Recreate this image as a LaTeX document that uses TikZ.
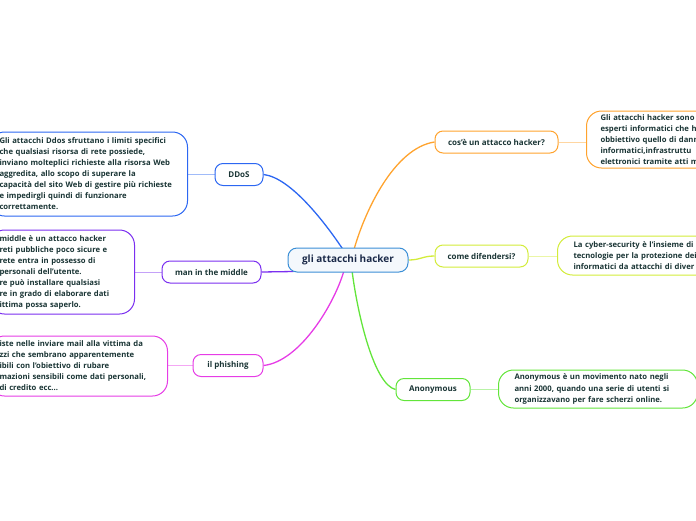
\documentclass[tikz,border=0pt]{standalone}
\usepackage{fontspec}
\setmainfont{Open Sans}
\usetikzlibrary{calc,backgrounds}
\definecolor{MapInk}{HTML}{1A3535}
\definecolor{MapNavy}{HTML}{1B2A49}
\definecolor{MapCentre}{HTML}{3B8FD6}
\definecolor{MapCentreFill}{HTML}{F4F8FC}
\definecolor{MapBlue}{HTML}{2C67F2}
\definecolor{MapPurple}{HTML}{7B2FF0}
\definecolor{MapPink}{HTML}{E63CE6}
\definecolor{MapOrange}{HTML}{FFA32E}
\definecolor{MapLime}{HTML}{D3EC3A}
\definecolor{MapGreen}{HTML}{62E53A}

\begin{document}
\begin{tikzpicture}[x=1pt, y=-1pt,
    root/.style={
      draw=MapCentre, fill=MapCentreFill, line width=1pt, rounded corners=9pt,
      minimum width=120pt, minimum height=24pt, inner sep=0pt,
      font=\fontsize{10}{12}\selectfont\bfseries, text=MapNavy
    },
    topic/.style={
      draw=#1, fill=white, line width=1pt, rounded corners=8pt,
      minimum height=22pt, inner sep=0pt,
      font=\fontsize{8}{9}\selectfont\bfseries, text=MapInk
    },
    notebox/.style={
      draw=#1, fill=white, line width=1pt, rounded corners=15pt,
      inner xsep=10pt, inner ysep=0pt, align=left,
      font=\fontsize{7.7}{11}\selectfont\bfseries, text=MapInk
    },
    branch/.style={draw=#1, line width=1.3pt},
    twig/.style={draw=#1!45, line width=1pt}
  ]
  \useasboundingbox (0,0) rectangle (696,520);
  \clip (0,0) rectangle (696,520);

  % Central topic
  \node[root] (hack) at (348,260) {gli attacchi hacker};

  % Left branches
  \node[topic=MapBlue, minimum width=48pt] (ddos) at (239,174.5) {DDoS};
  \node[topic=MapPurple, minimum width=99pt] (mitm) at (211.5,272) {man in the middle};
  \node[topic=MapPink, minimum width=70pt] (phish) at (228,365.5) {il phishing};

  % Right branches
  \node[topic=MapOrange, minimum width=123pt] (what) at (496.5,142) {cos'è un attacco hacker?};
  \node[topic=MapLime, minimum width=93pt] (defend) at (481.5,256) {come difendersi?};
  \node[topic=MapGreen, minimum width=74pt] (anon) at (433,389.5) {Anonymous};

  % Notes, left side
  \node[notebox=MapBlue, anchor=east, text width=178pt, minimum height=84pt] (ddosnote) at (188,174)
    {Gli attacchi Ddos sfruttano i limiti specifici\\che qualsiasi risorsa di rete possiede,\\inviano molteplici richieste alla risorsa Web\\aggredita, allo scopo di superare la\\capacità del sito Web di gestire più richieste\\e impedirgli quindi di funzionare\\correttamente.};
  \node[notebox=MapPurple, anchor=east, text width=125pt, minimum height=84pt] (mitmnote) at (135,272)
    {middle è un attacco hacker\\reti pubbliche poco sicure e\\rete entra in possesso di\\personali dell'utente.\\re può installare qualsiasi\\re in grado di elaborare dati\\ittima possa saperlo.};
  \node[notebox=MapPink, anchor=east, text width=158pt, minimum height=60pt] (phishnote) at (168,366)
    {iste nelle inviare mail alla vittima da\\zzi che sembrano apparentemente\\ibili con l'obiettivo di rubare\\mazioni sensibili come dati personali,\\di credito ecc...};

  % Notes, right side
  \node[notebox=MapOrange, anchor=west, inner xsep=14pt, text width=200pt, minimum height=57pt] (whatnote) at (586,139.5)
    {Gli attacchi hacker sono\\esperti informatici che h\\obbiettivo quello di dann\\informatici,infrastruttu\\elettronici tramite atti m};
  \node[notebox=MapLime, anchor=west, inner xsep=16pt, text width=200pt, minimum height=39pt] (defendnote) at (557,255.5)
    {La cyber-security è l'insieme di\\tecnologie per la protezione dei\\informatici da attacchi di diver};
  \node[notebox=MapGreen, anchor=west, inner xsep=16pt, text width=167pt, minimum height=38pt,
        font=\fontsize{7.7}{11.5}\selectfont\bfseries] (anonnote) at (498,389)
    {Anonymous è un movimento nato negli\\anni 2000, quando una serie di utenti si\\organizzavano per fare scherzi online.};

  % Connectors
  \begin{scope}[on background layer]
    \draw[branch=MapBlue] ($(hack.north)+(-5,2)$) .. controls +(-18,-27) and +(27,3) .. (ddos.east);
    \draw[branch=MapPurple] ($(hack.south west)+(6,-1)$) -- (mitm.east);
    \draw[branch=MapPink] ($(hack.south)+(-4,-2)$) .. controls +(-9,32) and +(37,-4) .. (phish.east);
    \draw[branch=MapOrange] ($(hack.north)+(6,2)$) .. controls +(11,-39) and +(-40,6) .. (what.west);
    \draw[branch=MapLime] (hack.east) .. controls +(12,0) and +(-12,0) .. (defend.west);
    \draw[branch=MapGreen] ($(hack.south)+(4,-2)$) .. controls +(6,47) and +(-21,-5) .. (anon.west);

    \draw[twig=MapBlue] (ddos.west) -- (ddos.west -| ddosnote.east);
    \draw[twig=MapPurple] (mitm.west) -- (mitm.west -| mitmnote.east);
    \draw[twig=MapPink] (phish.west) -- (phish.west -| phishnote.east);
    \draw[twig=MapOrange] (what.east) -- (what.east -| whatnote.west);
    \draw[twig=MapLime] (defend.east) -- (defend.east -| defendnote.west);
    \draw[twig=MapGreen] (anon.east) -- (anon.east -| anonnote.west);
  \end{scope}
\end{tikzpicture}
\end{document}
